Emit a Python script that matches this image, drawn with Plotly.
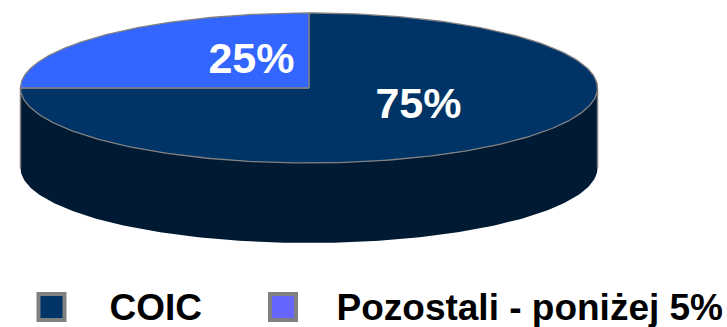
import numpy as np
import plotly.graph_objects as go

categories = ["COIC", "Pozostali - poniżej 5%"]
values = [75, 25]
top_colors = ["#003366", "#3366FF"]
legend_colors = ["#003366", "#6666FF"]
side_color = "#001a33"
edge_color = "#808080"

W, H = 727, 327
CX, CY, RX, RY, DEPTH = 309, 88, 288.5, 75, 80

def ux(p):
    return (p - CX) / RX

def uy(p):
    return (CY - p) / RY

d = DEPTH / RY
fig = go.Figure()

# side wall: front half of the cylinder
t = np.linspace(np.pi, 2 * np.pi, 181)
sx = np.concatenate([np.cos(t), np.cos(t[::-1])])
sy = np.concatenate([np.sin(t) - d, np.sin(t[::-1])])
fig.add_trace(go.Scatter(x=sx, y=sy, mode="lines", fill="toself", fillcolor=side_color,
                         line=dict(color=side_color, width=0), hoverinfo="skip", showlegend=False))
# grey edges at the wall ends
for e in (-1, 1):
    fig.add_trace(go.Scatter(x=[e, e], y=[0, -d], mode="lines", line=dict(color=edge_color, width=1.5),
                             hoverinfo="skip", showlegend=False))

# top slices: start at 12 o'clock, clockwise
total = sum(values)
angle = np.pi / 2
for v, c in zip(values, top_colors):
    sweep = 2 * np.pi * v / total
    a = np.linspace(angle, angle - sweep, 240)
    x = np.concatenate([[0], np.cos(a), [0]])
    y = np.concatenate([[0], np.sin(a), [0]])
    fig.add_trace(go.Scatter(x=x, y=y, mode="lines", fill="toself", fillcolor=c,
                             line=dict(color=edge_color, width=1.3), hoverinfo="skip", showlegend=False))
    angle -= sweep

# slice labels
label_x = [ux(418.5), ux(251.5)]
label_y = [uy(107.5), uy(62)]
fig.add_trace(go.Scatter(x=label_x, y=label_y, mode="text",
                         text=[f"{v}%" for v in values],
                         texttemplate="<b>%{text}</b>",
                         textfont=dict(family="Liberation Sans", size=43, color="white"),
                         textposition="middle center", hoverinfo="skip", showlegend=False))

# legend
swatch_x = [ux(51.5), ux(283)]
swatch_y = [uy(307), uy(307)]
fig.add_trace(go.Scatter(x=swatch_x, y=swatch_y, mode="markers",
                         marker=dict(symbol="square", size=26, color=legend_colors,
                                     line=dict(color=edge_color, width=4)),
                         hoverinfo="skip", showlegend=False))
text_x = [ux(109.5), ux(336.5)]
fig.add_trace(go.Scatter(x=text_x, y=[uy(311), uy(311)], mode="text",
                         text=categories, texttemplate="<b>%{text}</b>",
                         textfont=dict(family="Liberation Sans", size=37, color="black"),
                         textposition="middle right", hoverinfo="skip", showlegend=False))

fig.update_layout(
    width=W, height=H, margin=dict(l=0, r=0, t=0, b=0), autosize=False,
    paper_bgcolor="white", plot_bgcolor="white", showlegend=False,
    xaxis=dict(range=[ux(0), ux(W)], visible=False, fixedrange=True),
    yaxis=dict(range=[uy(H), uy(0)], visible=False, fixedrange=True),
)
fig.write_html("out.html", config={"displayModeBar": False},
               post_script="document.body.style.margin='0';document.body.style.overflow='hidden';")
